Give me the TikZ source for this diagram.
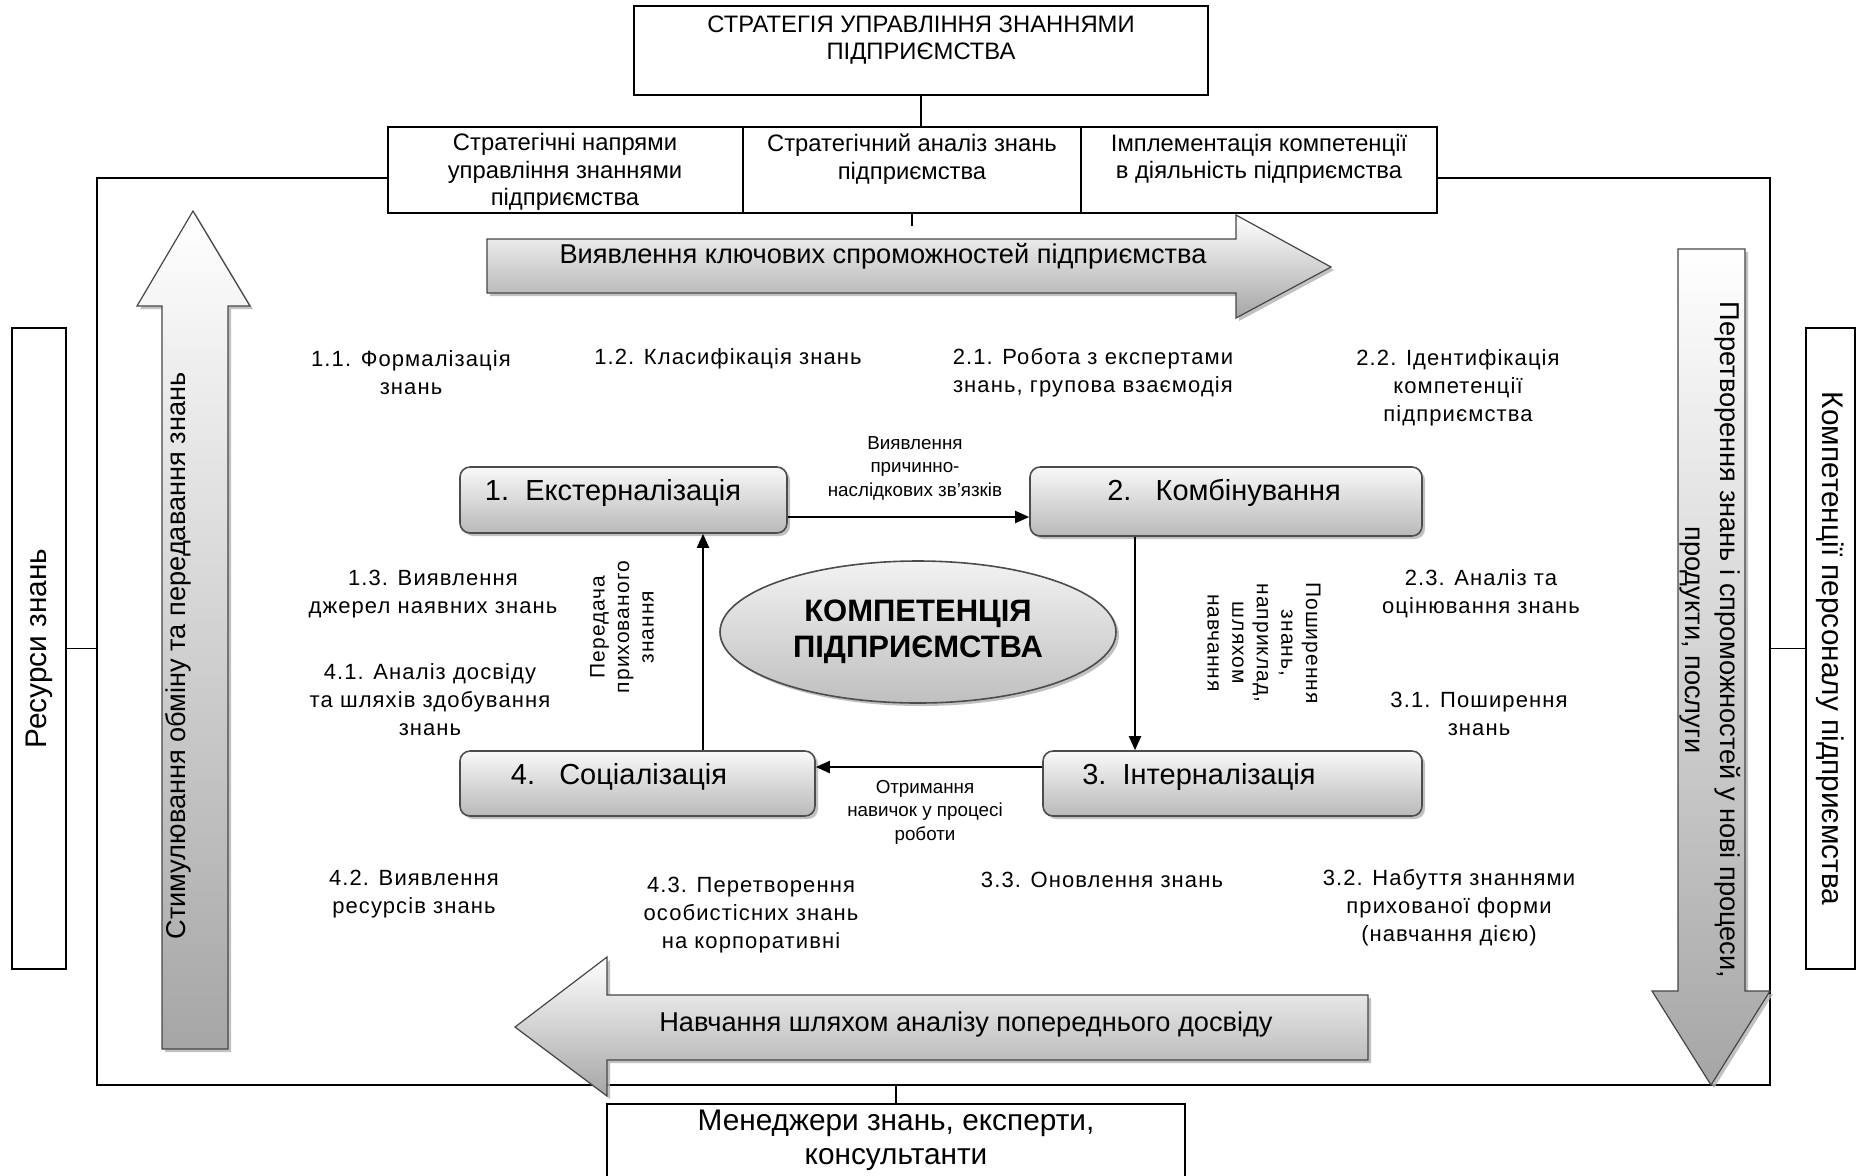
\documentclass[tikz,border=0pt]{standalone}
\usepackage{fontspec}
\setmainfont{Liberation Sans}
\newfontfamily\nar{Liberation Sans}
\newfontfamily\spc[LetterSpace=5]{Liberation Sans}
\usetikzlibrary{fit,shapes.geometric,shadows,arrows.meta,calc}
\tikzset{
  box/.style={draw, line width=0.9pt, fill=white, inner sep=0pt, align=center},
  boxtxt/.style={font=\nar\fontsize{11.9}{13.8}\selectfont, align=center, inner sep=0pt},
  proc/.style={draw=gray!60!black, line width=0.8pt, rounded corners=5pt, top color=gray!5, bottom color=gray!55,
     drop shadow={shadow xshift=1.5pt, shadow yshift=-1.5pt, fill=gray!60, opacity=0.8}, inner sep=0pt},
  proctxt/.style={font=\nar\fontsize{14.5}{17}\selectfont, inner sep=0pt},
  bigarrow/.style={draw=gray!55!black, line width=0.6pt, top color=white, bottom color=gray!70,
     drop shadow={shadow xshift=1.5pt, shadow yshift=-1.5pt, fill=gray!60, opacity=0.8}},
  atxt/.style={font=\nar\fontsize{13.6}{17.5}\selectfont, align=center, inner sep=0pt},
  sidetxt/.style={font=\nar\fontsize{14.9}{17}\selectfont, inner sep=0pt},
  item/.style={font=\spc\fontsize{11}{14}\selectfont, align=center, inner sep=0pt},
  small/.style={font=\nar\fontsize{9.4}{11.8}\selectfont, align=center, inner sep=0pt},
  vsmall/.style={font=\spc\fontsize{10.5}{12.3}\selectfont, align=center, inner sep=0pt},
  flow/.style={line width=1pt, -{Triangle[length=7pt,width=6pt]}},
  conn/.style={line width=0.8pt},
}
\begin{document}
\begin{tikzpicture}[x=0.5pt,y=-0.5pt]
\useasboundingbox (0,0) rectangle (1858,1175);
% main frame
\node[draw, line width=0.9pt, inner sep=0pt, fit={(97,178) (1770,1085)}] (frame) {};

% big arrows
\path[bigarrow] (487,239) -- (1236,239) -- (1236,215) -- (1331,267) -- (1236,318) -- (1236,293) -- (487,293) -- cycle;
\path[bigarrow] (1368,995) -- (607,995) -- (607,957) -- (515,1027) -- (607,1096) -- (607,1060) -- (1368,1060) -- cycle;
\path[bigarrow] (162,1049) -- (162,306) -- (137,306) -- (193,211) -- (250,306) -- (228,306) -- (228,1049) -- cycle;
\path[bigarrow] (1678,249) -- (1745,249) -- (1745,991) -- (1770,991) -- (1711,1085) -- (1652,991) -- (1678,991) -- cycle;
\node[atxt] (ttop) at (883,256) {Виявлення ключових спроможностей підприємства};
\node[atxt] (tbot) at (966,1024) {Навчання шляхом аналізу попереднього досвіду};
\node[atxt, rotate=90] (tup) at (178,656) {Стимулювання обміну та передавання знань};
\node[atxt, rotate=-90] (tdown) at (1710,640) {Перетворення знань і спроможностей у нові процеси,\\ продукти, послуги};

% top boxes
\node[box, fit={(634,6) (1208,95)}] (strat) {};
\node[boxtxt] (strattxt) at (921,40) {СТРАТЕГІЯ УПРАВЛІННЯ ЗНАННЯМИ\\ПІДПРИЄМСТВА};
\node[box, fit={(388,127) (743,213)}] (r1) {};
\node[box, fit={(743,127) (1081,213)}] (r2) {};
\node[box, fit={(1081,127) (1437,213)}] (r3) {};
\node[boxtxt] (r1t) at (565,172) {Стратегічні напрями\\управління знаннями\\підприємства};
\node[boxtxt] (r2t) at (912,159) {Стратегічний аналіз знань\\підприємства};
\node[boxtxt] (r3t) at (1259,159) {Імплементація компетенції\\в діяльність підприємства};
\draw[conn] (strat.south) -- (strat.south |- r2.north);
\coordinate (tick) at (912,226);
\draw[conn] (r2.south) -- (tick);

% side boxes
\node[box, fit={(12,328) (66,969)}] (res) {};
\node[sidetxt, rotate=90] (restxt) at (res.center) {Ресурси знань};
\node[box, fit={(1806,328) (1855,969)}] (comp) {};
\node[sidetxt, rotate=-90] (comptxt) at (comp.center) {Компетенції персоналу підприємства};
\draw[conn] (res.east) -- (res.east -| frame.west);
\draw[conn] (frame.east |- comp.west) -- (comp.west);

% bottom box
\node[box, fit={(607,1104) (1185,1182)}] (man) {};
\node[sidetxt, align=center] (mantxt) at (896,1140) {Менеджери знань, експерти,\\консультанти};
\draw[conn] (frame.south -| man.north) -- (man.north);

% process boxes
\node[proc, fit={(460,467) (787,533)}] (p1) {};
\node[proc, fit={(1030,467) (1422,536)}] (p2) {};
\node[proc, fit={(1043,751) (1422,816)}] (p3) {};
\node[proc, fit={(460,751) (815,816)}] (p4) {};
\node[proctxt] (p1t) at (613,493) {1.\ \ Екстерналізація};
\node[proctxt] (p2t) at (1224,493) {2.\ \ \ Комбінування};
\node[proctxt] (p3t) at (1199,777) {3.\ \ Інтерналізація};
\node[proctxt] (p4t) at (619,777) {4.\ \ \ Соціалізація};

\draw[flow] (p1.east |- 0,517) -- (p2.west |- 0,517);
\draw[flow] (p2.south -| 1135,0) -- (p3.north -| 1135,0);
\draw[flow] (p3.west |- 0,767) -- (p4.east |- 0,767);
\draw[flow] (p4.north -| 703,0) -- (p1.south -| 703,0);

% centre ellipse
\node[ellipse, draw=gray!60!black, line width=0.8pt, minimum width=198pt, minimum height=71pt, inner sep=0pt,
      top color=gray!10, bottom color=gray!50, drop shadow={shadow xshift=1.5pt, shadow yshift=-1.5pt, fill=gray!60, opacity=0.8},
      font=\nar\bfseries\fontsize{15.5}{18}\selectfont, align=center] (core) at (918,632) {КОМПЕТЕНЦІЯ\\ПІДПРИЄМСТВА};

% arrow labels
\node[small] (l12) at (915,468) {Виявлення\\причинно-\\наслідкових зв’язків};
\node[small] (l34) at (925,812) {Отримання\\навичок у процесі\\роботи};
\node[vsmall, rotate=90] (l41) at (622,627) {Передача\\прихованого\\знання};
\node[vsmall, rotate=-90] (l23) at (1264,643) {Поширення\\знань,\\наприклад,\\шляхом\\навчання};

% numbered items
\node[item] (n11) at (411,373) {1.1. Формалізація\\знань};
\node[item] (n12) at (728,359) {1.2. Класифікація знань};
\node[item] (n21) at (1093,373) {2.1. Робота з експертами\\знань, групова взаємодія};
\node[item] (n22) at (1458,388) {2.2. Ідентифікація\\компетенції\\підприємства};
\node[item] (n13) at (433,594) {1.3. Виявлення\\джерел наявних знань};
\node[item] (n41) at (430,700) {4.1. Аналіз досвіду\\та шляхів здобування\\знань};
\node[item] (n42) at (414,894) {4.2. Виявлення\\ресурсів знань};
\node[item] (n43) at (751,915) {4.3. Перетворення\\особистісних знань\\на корпоративні};
\node[item] (n33) at (1102,880) {3.3. Оновлення знань};
\node[item] (n32) at (1449,908) {3.2. Набуття знаннями\\прихованої форми\\(навчання дією)};
\node[item] (n23) at (1481,594) {2.3. Аналіз та\\оцінювання знань};
\node[item] (n31) at (1479,714) {3.1. Поширення\\знань};
\end{tikzpicture}
\end{document}
